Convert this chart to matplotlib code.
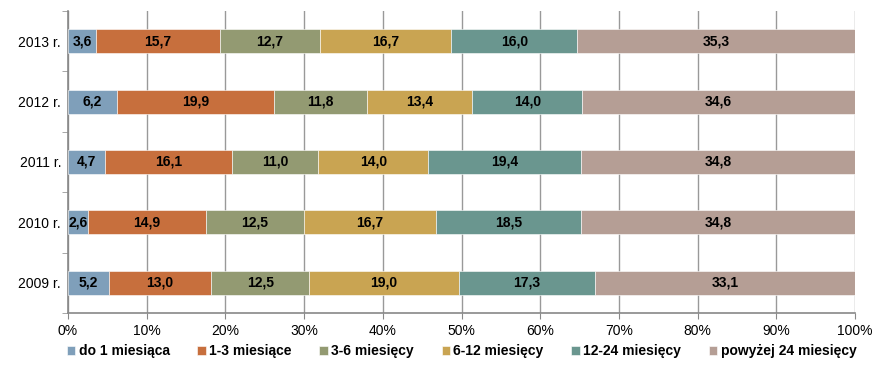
import matplotlib
matplotlib.use("Agg")
import matplotlib.pyplot as plt
import numpy as np

plt.rcParams['font.family'] = ['Liberation Sans', 'DejaVu Sans']

years = ["2009 r.", "2010 r.", "2011 r.", "2012 r.", "2013 r."]
series_names = ["do 1 miesiąca", "1-3 miesiące", "3-6 miesięcy", "6-12 miesięcy",
                "12-24 miesięcy", "powyżej 24 miesięcy"]
do1 = [5.2, 2.6, 4.7, 6.2, 3.6]
m1_3 = [13.0, 14.9, 16.1, 19.9, 15.7]
m3_6 = [12.5, 12.5, 11.0, 11.8, 12.7]
m6_12 = [19.0, 16.7, 14.0, 13.4, 16.7]
m12_24 = [17.3, 18.5, 19.4, 14.0, 16.0]
pow24 = [33.1, 34.8, 34.8, 34.6, 35.3]
colors = ["#7F9FBA", "#C76F3D", "#939A72", "#C9A452", "#6A968F", "#B59E95"]

data = np.array([do1, m1_3, m3_6, m6_12, m12_24, pow24])
totals = data.sum(axis=0)
pct = data / totals * 100

fig = plt.figure(figsize=(8.76, 3.69), dpi=100)
ax = fig.add_axes([68/876, 1-313/369, (855-68)/876, (313-11)/369])

y = np.arange(len(years))
left = np.zeros(len(years))
for i, name in enumerate(series_names):
    ax.barh(y, pct[i], left=left, height=0.4, color=colors[i],
            edgecolor="white", linewidth=0.4, label=name, zorder=3)
    for j in range(len(years)):
        ax.text(left[j] + pct[i][j] / 2, y[j], f"{data[i][j]:.1f}".replace(".", ","),
                ha="center", va="center", fontsize=10, fontweight="bold",
                color="black", zorder=4)
    left += pct[i]

ax.set_xlim(0, 100)
ax.set_ylim(-0.5, len(years) - 0.5)
ax.set_xticks(np.arange(0, 101, 10))
ax.set_xticklabels([f"{v}%" for v in range(0, 101, 10)], fontsize=10)
ax.set_yticks(y)
ax.set_yticklabels(years, fontsize=10)
ax.set_yticks(np.arange(-0.5, len(years), 1), minor=True)
ax.tick_params(axis="y", which="major", length=0, pad=5)
ax.tick_params(axis="y", which="minor", length=4, color="#999999", direction="out")
ax.tick_params(axis="x", which="major", length=4, color="#888888", direction="out", pad=4)
ax.grid(axis="x", color="#999999", linewidth=1.0, zorder=0)
for s in ["top", "right"]:
    ax.spines[s].set_visible(False)
ax.spines["left"].set_color("#888888")
ax.spines["bottom"].set_color("#888888")
ax.spines["left"].set_linewidth(1.2)
ax.spines["bottom"].set_linewidth(1.2)

fig.legend(loc="center", bbox_to_anchor=(0.527, 1-351/369), ncol=6, frameon=False,
           handlelength=0.6, handleheight=0.6, handletextpad=0.25,
           columnspacing=2.0, prop={"weight": "bold", "size": 10})

fig.savefig("out.png", dpi=100)
